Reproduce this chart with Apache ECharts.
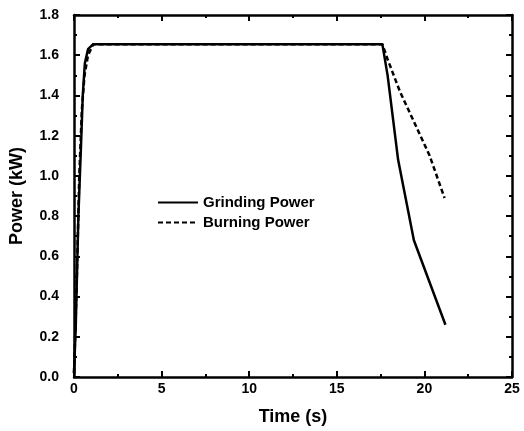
<!DOCTYPE html>
<html>
<head>
    <meta charset="utf-8">
    <title>Power</title>
    <script src="https://cdn.jsdelivr.net/npm/echarts@6/dist/echarts.min.js"></script>
    <style>
        body { margin: 0; background: #fff; }
    </style>
</head>
<body>
    <div id="main" style="width:524px;height:431px;"></div>
    <script type="text/javascript">
        // values: [time (s), power (kW)]
        var grindingPower = [
            [0, 0.02], [0.1, 0.25], [0.25, 0.8], [0.4, 1.15], [0.5, 1.4],
            [0.62, 1.56], [0.8, 1.63], [1.1, 1.655], [17.6, 1.655],
            [17.9, 1.5], [18.5, 1.08], [19.4, 0.68], [21.2, 0.26]
        ];
        var burningPower = [
            [0, 0.02], [0.15, 0.45], [0.3, 1.0], [0.45, 1.33], [0.6, 1.5],
            [0.8, 1.6], [1.1, 1.655], [17.6, 1.655], [17.9, 1.58],
            [18.6, 1.42], [19.4, 1.27], [20.3, 1.1], [21.15, 0.89]
        ];
        var seriesNames = ["Grinding Power", "Burning Power"];

        var boldFont = "Liberation Sans";
        var axisLine = { show: true, onZero: false, lineStyle: { color: "#000", width: 2.5 } };
        var tick = { show: true, inside: true, length: 6, lineStyle: { color: "#000", width: 2 } };
        var minor = { show: true, splitNumber: 2, length: 3, lineStyle: { color: "#000", width: 2 } };

        var myChart = echarts.init(document.getElementById("main"));
        var option = {
            animation: false,
            backgroundColor: "#fff",
            grid: { left: 73, right: 12, top: 15, bottom: 52 },
            legend: {
                orient: "vertical",
                left: 152,
                top: 190,
                itemWidth: 40,
                itemHeight: 10,
                itemGap: 5,
                itemStyle: { opacity: 0 },
                textStyle: { fontFamily: boldFont, fontWeight: "bold", fontSize: 15, color: "#000" },
                data: seriesNames
            },
            xAxis: [{
                type: "value",
                min: 0, max: 25, interval: 5,
                name: "Time (s)",
                nameLocation: "middle",
                nameGap: 31,
                nameTextStyle: { fontFamily: boldFont, fontWeight: "bold", fontSize: 18, color: "#000" },
                axisLine: axisLine,
                axisTick: tick,
                minorTick: minor,
                axisLabel: { fontFamily: boldFont, fontWeight: "bold", fontSize: 14, color: "#000", margin: 5 },
                splitLine: { show: false }
            }, {
                type: "value",
                position: "top",
                min: 0, max: 25, interval: 5,
                axisLine: axisLine,
                axisTick: tick,
                minorTick: minor,
                axisLabel: { show: false },
                splitLine: { show: false }
            }],
            yAxis: [{
                type: "value",
                min: 0, max: 1.8, interval: 0.2,
                name: "Power (kW)",
                nameLocation: "middle",
                nameGap: 48,
                nameTextStyle: { fontFamily: boldFont, fontWeight: "bold", fontSize: 18, color: "#000" },
                axisLine: axisLine,
                axisTick: tick,
                minorTick: minor,
                axisLabel: {
                    fontFamily: boldFont, fontWeight: "bold", fontSize: 14, color: "#000", margin: 15,
                    formatter: function (v) { return v.toFixed(1); }
                },
                splitLine: { show: false }
            }, {
                type: "value",
                position: "right",
                min: 0, max: 1.8, interval: 0.2,
                axisLine: axisLine,
                axisTick: tick,
                minorTick: minor,
                axisLabel: { show: false },
                splitLine: { show: false }
            }],
            series: [{
                name: seriesNames[0],
                type: "line",
                data: grindingPower,
                symbol: "none",
                lineStyle: { color: "#000", width: 2.5, type: "solid" },
                itemStyle: { color: "#000" },
                z: 3
            }, {
                name: seriesNames[1],
                type: "line",
                data: burningPower,
                symbol: "none",
                lineStyle: { color: "#000", width: 2.5, type: [5, 3] },
                itemStyle: { color: "#000" },
                z: 2
            }, {
                // carries the top and right frame axes
                name: "frame",
                type: "line",
                xAxisIndex: 1,
                yAxisIndex: 1,
                data: [],
                silent: true
            }]
        };
        myChart.setOption(option);
    </script>
</body>
</html>
